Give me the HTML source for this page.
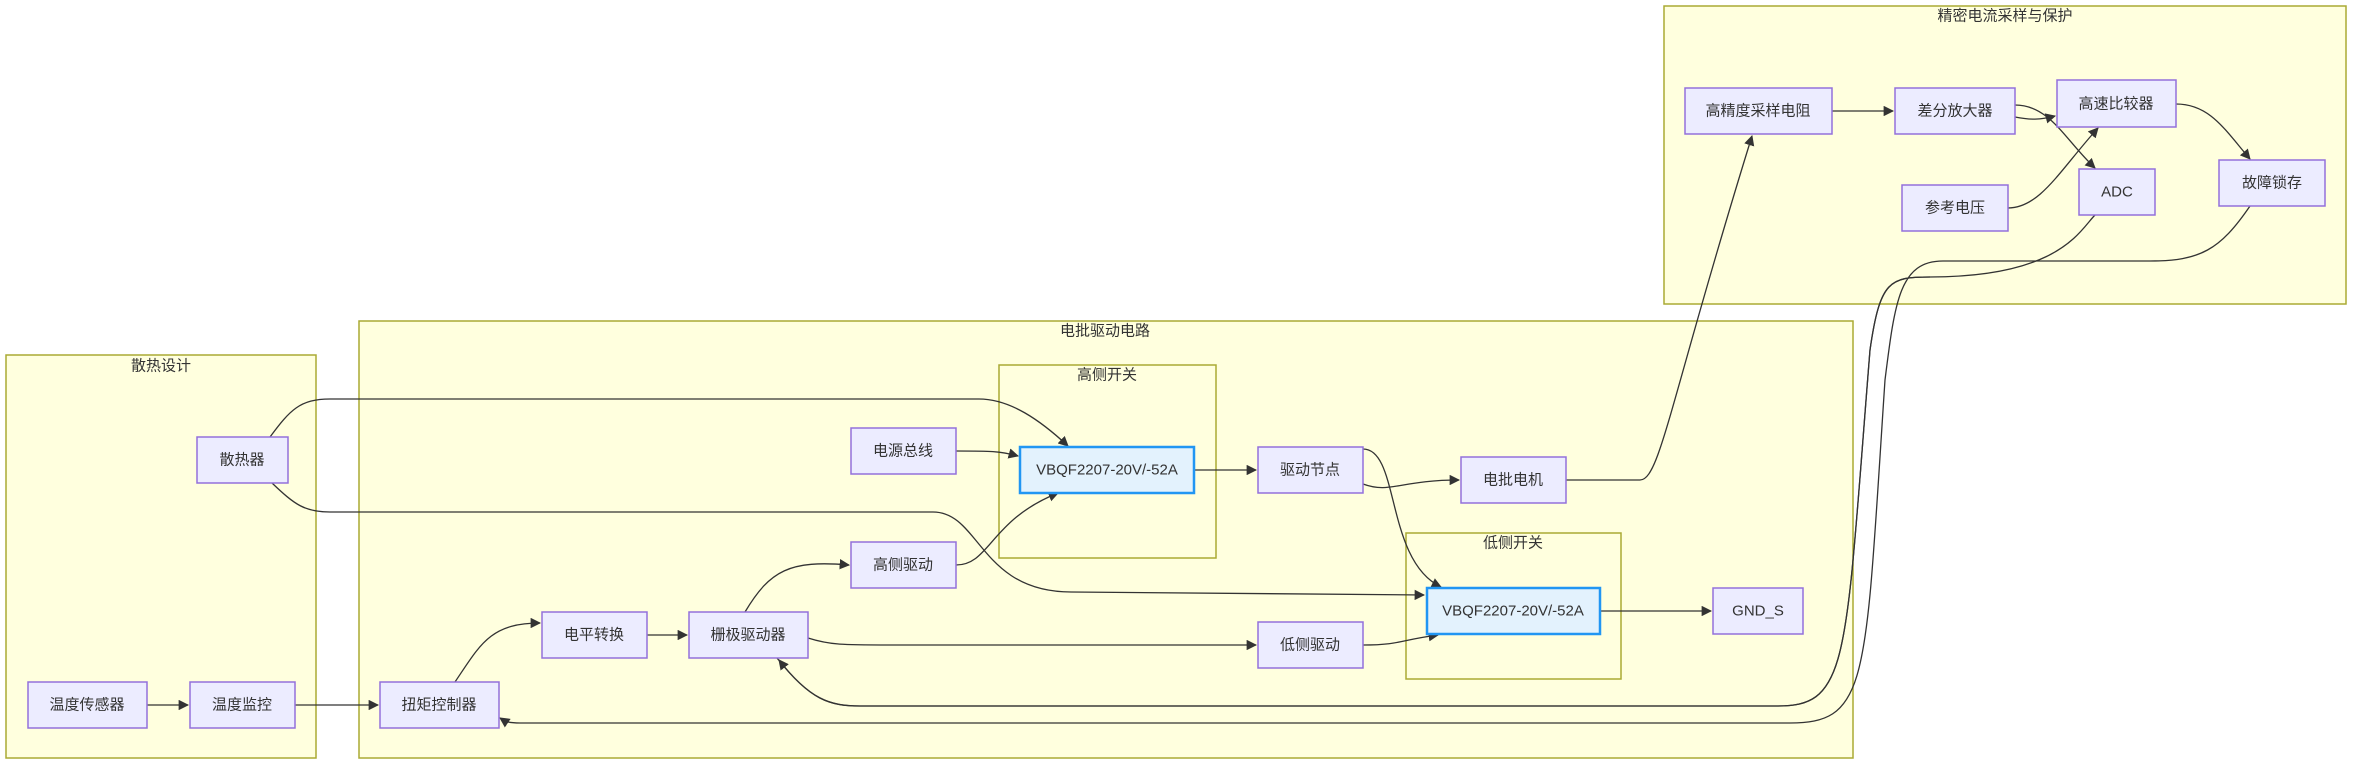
<!DOCTYPE html>
<html><head><meta charset="utf-8"><style>
html,body{margin:0;padding:0;background:#fff;}
svg{display:block;}
text{font-family:"Liberation Sans","Noto Sans CJK SC",sans-serif;font-size:15px;fill:#333;text-anchor:middle;dominant-baseline:central;}
.c{fill:#FFFFDE;stroke:#AAAA33;stroke-width:1.5;}
.n{fill:#ECECFF;stroke:#9370DB;stroke-width:1.5;}
.v{fill:#E3F2FD;stroke:#2196F3;stroke-width:2.5;}
.e{fill:none;stroke:#333;stroke-width:1.3;marker-end:url(#a);}
</style></head><body>
<svg width="2368" height="770" viewBox="0 0 2368 770" xmlns="http://www.w3.org/2000/svg">
<defs><marker id="a" viewBox="0 0 10 10" refX="9" refY="5" markerWidth="8" markerHeight="8" orient="auto"><path d="M0,0L10,5L0,10z" fill="#333"/></marker></defs>
<!-- clusters -->
<rect class="c" x="6" y="355" width="310" height="403"/>
<text x="161" y="366">散热设计</text>
<rect class="c" x="359" y="321" width="1494" height="437"/>
<text x="1105" y="331">电批驱动电路</text>
<rect class="c" x="999" y="365" width="217" height="193"/>
<text x="1107" y="375">高侧开关</text>
<rect class="c" x="1406" y="533" width="215" height="146"/>
<text x="1513" y="543">低侧开关</text>
<rect class="c" x="1664" y="6" width="682" height="298"/>
<text x="2005" y="16">精密电流采样与保护</text>

<!-- edges -->
<path class="e" d="M270,437 C290,410 300,399 330,399 L979,399 C1010,399 1040,420 1068,446"/>
<path class="e" d="M272,483 C295,505 305,512 330,512 L933,512 C980,512 980,592 1071,592 L1424,595"/>
<path class="e" d="M956,451 C990,451 1000,451 1018,456"/>
<path class="e" d="M956,565 C990,565 990,520 1058,493"/>
<path class="e" d="M1194,470 L1256,470"/>
<path class="e" d="M1363,449 C1400,449 1385,560 1441,587"/>
<path class="e" d="M1363,484 C1390,494 1400,480 1459,480"/>
<path class="e" d="M1566,480 L1640,480 C1660,480 1670,400 1752,136"/>
<path class="e" d="M1600,611 L1711,611"/>
<path class="e" d="M1363,645 C1400,645 1400,640 1438,635"/>
<path class="e" d="M808,638 C830,645 840,645 900,645 L1256,645"/>
<path class="e" d="M777,658 C810,700 830,706 860,706 L1778,706 C1850,706 1845,660 1870,350 C1880,280 1890,277 1930,277 C2060,277 2080,230 2095,215" style="marker-end:none"/>
<path class="e" d="M1930,277 C1890,277 1880,280 1870,350 C1845,660 1850,706 1778,706 L860,706 C830,706 810,700 779,660"/>
<path class="e" d="M2250,206 C2220,250 2200,261 2150,261 L1943,261 C1900,261 1895,300 1885,380 C1865,680 1870,723 1790,723 L520,723 C505,723 503,720 500,718"/>
<path class="e" d="M647,635 L687,635"/>
<path class="e" d="M455,682 C480,645 490,623 540,623"/>
<path class="e" d="M745,612 C770,570 790,560 849,565"/>
<path class="e" d="M147,705 L188,705"/>
<path class="e" d="M295,705 L378,705"/>
<path class="e" d="M1832,111 L1893,111"/>
<path class="e" d="M2015,105 C2050,105 2065,140 2095,168"/>
<path class="e" d="M2015,117 C2030,120 2040,120 2055,116"/>
<path class="e" d="M2008,208 C2040,208 2060,170 2098,128"/>
<path class="e" d="M2176,104 C2210,104 2225,130 2250,159"/>

<!-- nodes -->
<rect class="n" x="197" y="437" width="91" height="46"/><text x="242" y="460">散热器</text>
<rect class="n" x="851" y="428" width="105" height="46"/><text x="903" y="451">电源总线</text>
<rect class="v" x="1020" y="447" width="174" height="46"/><text x="1107" y="470">VBQF2207-20V/-52A</text>
<rect class="n" x="851" y="542" width="105" height="46"/><text x="903" y="565">高侧驱动</text>
<rect class="n" x="542" y="612" width="105" height="46"/><text x="594" y="635">电平转换</text>
<rect class="n" x="689" y="612" width="119" height="46"/><text x="748" y="635">栅极驱动器</text>
<rect class="n" x="28" y="682" width="119" height="46"/><text x="87" y="705">温度传感器</text>
<rect class="n" x="190" y="682" width="105" height="46"/><text x="242" y="705">温度监控</text>
<rect class="n" x="380" y="682" width="119" height="46"/><text x="439" y="705">扭矩控制器</text>
<rect class="n" x="1258" y="447" width="105" height="46"/><text x="1310" y="470">驱动节点</text>
<rect class="n" x="1461" y="457" width="105" height="46"/><text x="1513" y="480">电批电机</text>
<rect class="v" x="1427" y="588" width="173" height="46"/><text x="1513" y="611">VBQF2207-20V/-52A</text>
<rect class="n" x="1713" y="588" width="90" height="46"/><text x="1758" y="611">GND_S</text>
<rect class="n" x="1258" y="622" width="105" height="46"/><text x="1310" y="645">低侧驱动</text>
<rect class="n" x="1685" y="88" width="147" height="46"/><text x="1758" y="111">高精度采样电阻</text>
<rect class="n" x="1895" y="88" width="120" height="46"/><text x="1955" y="111">差分放大器</text>
<rect class="n" x="2057" y="80" width="119" height="47"/><text x="2116" y="104">高速比较器</text>
<rect class="n" x="1902" y="185" width="106" height="46"/><text x="1955" y="208">参考电压</text>
<rect class="n" x="2079" y="169" width="76" height="46"/><text x="2117" y="192">ADC</text>
<rect class="n" x="2219" y="160" width="106" height="46"/><text x="2272" y="183">故障锁存</text>
</svg>
</body></html>
